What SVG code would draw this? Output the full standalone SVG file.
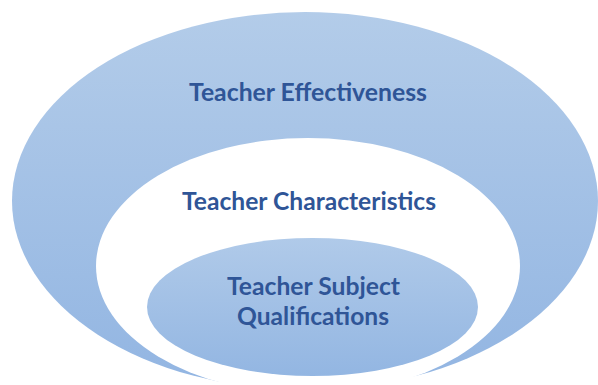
<svg xmlns="http://www.w3.org/2000/svg" width="598" height="385" viewBox="0 0 598 385">
<defs>
<linearGradient id="gOuter" x1="0" y1="0" x2="0" y2="1">
<stop offset="0" stop-color="#b3cce9"/>
<stop offset="1" stop-color="#92b5e2"/>
</linearGradient>
<linearGradient id="gInner" x1="0" y1="0" x2="0" y2="1">
<stop offset="0" stop-color="#b0cae9"/>
<stop offset="1" stop-color="#93b6e2"/>
</linearGradient>
<style>
.lbl{font-family:Lato,"Open Sans","Liberation Sans",sans-serif;font-weight:700;font-size:24px;fill:#2F5597;text-anchor:middle}
</style>
</defs>
<rect width="598" height="385" fill="#ffffff"/>
<g id="outer">
<ellipse cx="305" cy="201" rx="293" ry="189" fill="url(#gOuter)"/>
<text class="lbl" x="308" y="101" textLength="238" lengthAdjust="spacingAndGlyphs">Teacher Effectiveness</text>
</g>
<g id="middle">
<ellipse cx="308" cy="266" rx="212" ry="128" fill="#ffffff"/>
<text class="lbl" x="309" y="210" textLength="254" lengthAdjust="spacingAndGlyphs">Teacher Characteristics</text>
</g>
<g id="inner">
<ellipse cx="312.5" cy="307" rx="165.5" ry="69" fill="url(#gInner)"/>
<text class="lbl" x="313.5" y="295" textLength="173" lengthAdjust="spacingAndGlyphs">Teacher Subject</text>
<text class="lbl" x="313" y="325" textLength="152" lengthAdjust="spacingAndGlyphs">Qualifications</text>
</g>
<g id="connectors"/>
</svg>
